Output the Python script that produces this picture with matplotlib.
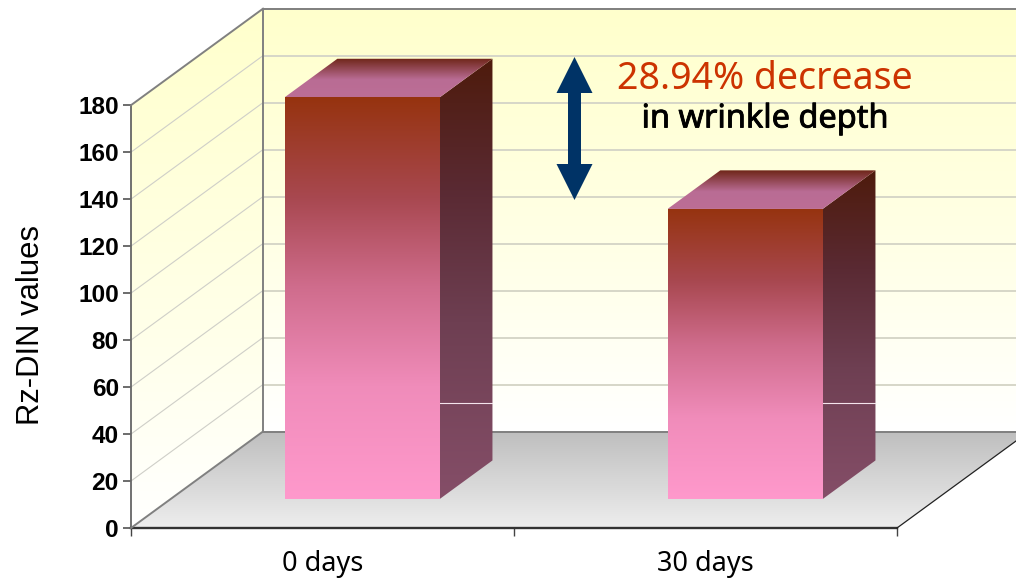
import numpy as np
import matplotlib
matplotlib.use('Agg')
import matplotlib.pyplot as plt
import matplotlib.patheffects as pe
from matplotlib.colors import LinearSegmentedColormap
from matplotlib.patches import Polygon
from matplotlib.transforms import Affine2D

plt.rcParams['font.family'] = ['Liberation Sans', 'DejaVu Sans']

categories = ['0 days', '30 days']
rz_din_values = [171.0, 123.5]
y_ticks = [0, 20, 40, 60, 80, 100, 120, 140, 160, 180]

W, H = 1016, 579
# pixel scale of the oblique projection
X0, Y0 = 131.0, 528.0
PX_PER_CAT = 383.0
PX_PER_VAL = 2.349
DEPTH_DX = 132.0 / PX_PER_CAT
DEPTH_DV = 96.5 / PX_PER_VAL
Y_MAX = 180
BAR_WIDTH = 0.405
BAR_D0, BAR_D1 = 0.30, 0.70
SEAM_LEVEL = 53.2

front_cmap = LinearSegmentedColormap.from_list('front', [
    (0.0, '#96330F'), (0.25, '#A84850'), (0.47, '#CF6C8C'), (0.72, '#F08CBA'), (1.0, '#FF99CC')])
side_cmap = LinearSegmentedColormap.from_list('side', [
    (0.0, '#4E1B0C'), (0.3, '#5A2A33'), (0.6, '#6E3F52'), (1.0, '#854E68')])
top_cmap = LinearSegmentedColormap.from_list('top', [
    (0.0, '#6E2517'), (0.55, '#B96C94'), (1.0, '#BC6E96')])
wall_cmap = LinearSegmentedColormap.from_list('wall', [
    (0.0, '#FFFFCC'), (0.6, '#FFFFE8'), (1.0, '#FFFFFF')])
floor_cmap = LinearSegmentedColormap.from_list('floor', ['#BEBEBE', '#EEEEEE'])


def proj(x, v, d=0.0):
    """Oblique projection of (category, value, depth) into the axes data space."""
    return x + d * DEPTH_DX, v + d * DEPTH_DV


def gradient_poly(ax, pts, cmap, zorder):
    # vertical gradient clipped to a polygon
    pts = np.array(pts)
    x0, x1 = pts[:, 0].min(), pts[:, 0].max()
    v0, v1 = pts[:, 1].min(), pts[:, 1].max()
    grad = np.linspace(0, 1, 256).reshape(-1, 1)
    im = ax.imshow(grad, extent=(x0, x1, v0, v1), origin='upper', cmap=cmap,
                   aspect='auto', zorder=zorder, interpolation='bilinear')
    clip = Polygon(pts, closed=True, transform=ax.transData, fill=False, edgecolor='none')
    ax.add_patch(clip)
    im.set_clip_path(clip)
    return im


def draw_bar(ax, center, value):
    xl, xr = center - BAR_WIDTH / 2, center + BAR_WIDTH / 2
    front = [proj(xl, 0, BAR_D0), proj(xr, 0, BAR_D0), proj(xr, value, BAR_D0), proj(xl, value, BAR_D0)]
    side = [proj(xr, 0, BAR_D0), proj(xr, 0, BAR_D1), proj(xr, value, BAR_D1), proj(xr, value, BAR_D0)]
    top = [proj(xl, value, BAR_D0), proj(xr, value, BAR_D0), proj(xr, value, BAR_D1), proj(xl, value, BAR_D1)]
    gradient_poly(ax, side, side_cmap, 5)
    gradient_poly(ax, top, top_cmap, 5)
    gradient_poly(ax, front, front_cmap, 6)
    # seam across the side face
    ax.plot([front[1][0], side[1][0]], [SEAM_LEVEL, SEAM_LEVEL], color='#F4E4EC', lw=0.8, zorder=5.5)


fig = plt.figure(figsize=(W / 100, H / 100), dpi=100, facecolor='white')
ax = fig.add_axes([0, 0, 1, 1])
ax.patch.set_visible(False)

xlim = (-X0 / PX_PER_CAT, (W - X0) / PX_PER_CAT)
ylim = (-(H - Y0) / PX_PER_VAL, Y0 / PX_PER_VAL)
n_cat = len(categories)

# back wall, side wall, floor
gradient_poly(ax, [proj(0, 0, 1), proj(n_cat, 0, 1), proj(n_cat, Y_MAX, 1), proj(0, Y_MAX, 1)], wall_cmap, 1)
gradient_poly(ax, [proj(0, 0, 0), proj(0, 0, 1), proj(0, Y_MAX, 1), proj(0, Y_MAX, 0)], wall_cmap, 1)
gradient_poly(ax, [proj(0, 0, 0), proj(n_cat, 0, 0), proj(n_cat, 0, 1), proj(0, 0, 1)], floor_cmap, 1)

# gridlines bend from the side wall onto the back wall
for v in y_ticks[1:]:
    p0, p1 = proj(0, v, 0), proj(0, v, 1)
    p2 = proj(n_cat, v, 1)
    if v < Y_MAX:
        ax.plot([p0[0], p1[0]], [p0[1], p1[1]], color='#CFCFC8', lw=0.8, zorder=2)
    ax.plot([p1[0], p2[0]], [p1[1], p2[1]], color='#D6D6C8', lw=1.4, zorder=2)

# frame of the 3D box
edge = '#808080'
for a, b in [((0, 0, 1), (0, Y_MAX, 1)), ((0, Y_MAX, 0), (0, Y_MAX, 1)),
             ((0, Y_MAX, 1), (n_cat, Y_MAX, 1)), ((0, 0, 0), (0, 0, 1)),
             ((0, 0, 1), (n_cat, 0, 1))]:
    pa, pb = proj(*a), proj(*b)
    ax.plot([pa[0], pb[0]], [pa[1], pb[1]], color=edge, lw=1.4, zorder=3)
pa, pb = proj(n_cat, 0, 0), proj(n_cat, 0, 1)
ax.plot([pa[0], pb[0]], [pa[1], pb[1]], color='#222222', lw=0.9, zorder=3)

for i, val in enumerate(rz_din_values):
    draw_bar(ax, i + 0.5, val)

ax.set_xlim(*xlim)
ax.set_ylim(*ylim)

# real axes along the front edge of the box
for s in ['top', 'right']:
    ax.spines[s].set_visible(False)
ax.spines['left'].set_position(('data', 0))
ax.spines['left'].set_bounds(0, Y_MAX)
ax.spines['left'].set_color('#666666')
ax.spines['left'].set_linewidth(1.3)
ax.spines['bottom'].set_position(('data', 0))
ax.spines['bottom'].set_bounds(0, n_cat)
ax.spines['bottom'].set_color('#333333')
ax.spines['bottom'].set_linewidth(1.7)
ax.set_yticks(y_ticks)
ax.set_yticklabels([str(t) for t in y_ticks], fontsize=17.6, fontweight='bold', color='black')
ax.tick_params(axis='y', length=5.8, width=1.1, color='#444444', pad=3)
ax.set_xticks(range(n_cat + 1))
ax.set_xticklabels([])
ax.tick_params(axis='x', which='major', length=5.8, width=1.0, color='#444444')
ax.set_xticks([i + 0.5 for i in range(n_cat)], minor=True)
ax.set_xticklabels(categories, minor=True, fontsize=19.5, family=['Noto Sans', 'DejaVu Sans'])
ax.tick_params(axis='x', which='minor', length=0, pad=16)

ax.set_ylabel('Rz-DIN values', fontsize=22.3, va='center')
ax.yaxis.set_label_coords(31 / W, 1 - 325 / H)

# everything below is placed in pixels from the top left
px = Affine2D().scale(1, -1).translate(0, H)
ax.text(765, 79, '28.94% decrease', transform=px, fontsize=27, color='#CC3300',
        ha='center', va='center', family=['Noto Sans', 'DejaVu Sans'], zorder=8)
ax.text(765, 119, 'in wrinkle depth', transform=px, fontsize=23.4, color='black',
        ha='center', va='center', family=['Noto Sans', 'DejaVu Sans'], zorder=8,
        path_effects=[pe.withStroke(linewidth=0.6, foreground='black')])

# double headed arrow
ac, at, ab, hw, hh, sw = 574.5, 57, 200, 18, 36, 6.5
arrow = [(ac, at), (ac + hw, at + hh), (ac + sw, at + hh), (ac + sw, ab - hh), (ac + hw, ab - hh),
         (ac, ab), (ac - hw, ab - hh), (ac - sw, ab - hh), (ac - sw, at + hh), (ac - hw, at + hh)]
ax.add_patch(Polygon(arrow, closed=True, transform=px, facecolor='#003366', edgecolor='none', zorder=8))

fig.savefig('out.png', dpi=100)
